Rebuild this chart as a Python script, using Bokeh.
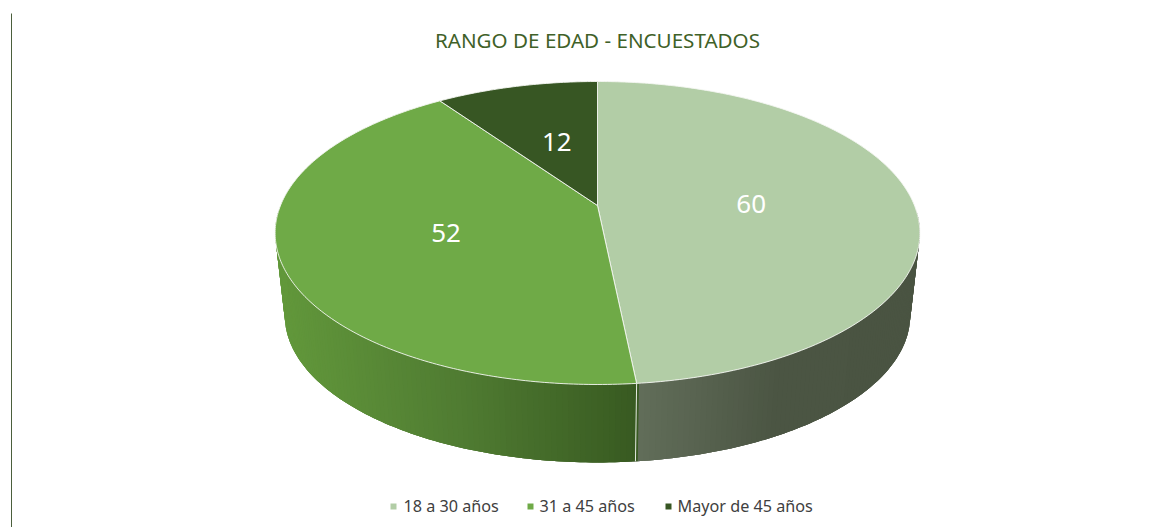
import math
from bokeh.plotting import figure
from bokeh.embed import file_html
from bokeh.resources import INLINE
from bokeh.core.properties import value

title = "RANGO DE EDAD - ENCUESTADOS"
categories = ["18 a 30 años", "31 a 45 años", "Mayor de 45 años"]
values = [60, 52, 12]
top_colors = ["#B2CDA6", "#6FAA47", "#375623"]

FONT = "Noto Sans"
W, H = 1169, 527
p = figure(width=W, height=H, x_range=(0, W), y_range=(H, 0),
           output_backend="svg", toolbar_location=None, min_border=0,
           outline_line_color=None, background_fill_color="white",
           border_fill_color="white")
p.axis.visible = False
p.grid.visible = False

# Projection of the tilted disc
CX, CY = 597.0, 205.0
C, A, E = 317.0, 146.5, 0.1815
DEPTH_Y, SHRINK = 83.3, 0.97


def top(t):
    u, v = math.sin(t), math.cos(t)
    d = 1 + E * v
    return CX + C * u / d, CY - A * v / d


def bottom(t):
    x, y = top(t)
    return CX + SHRINK * (x - CX), CY + DEPTH_Y + SHRINK * (y - CY)


total = sum(values)
edges = [0.0]
for val in values:
    edges.append(edges[-1] + val / total * 2 * math.pi)


def lerp_color(stops, f):
    for (f0, c0), (f1, c1) in zip(stops, stops[1:]):
        if f <= f1:
            k = 0 if f1 == f0 else max(0.0, (f - f0) / (f1 - f0))
            return "#%02x%02x%02x" % tuple(round(a + (b - a) * k) for a, b in zip(c0, c1))
    return "#%02x%02x%02x" % stops[-1][1]


# Side-wall shading, by horizontal position across the disc
side_green = [(0.0, (0x62, 0x98, 0x3B)), (0.28, (0x50, 0x7C, 0x32)), (0.56, (0x38, 0x5A, 0x21))]
side_grey = [(0.56, (0x62, 0x6E, 0x5A)), (0.78, (0x4B, 0x55, 0x43)), (1.0, (0x4A, 0x54, 0x42))]

# Strips are painted one over the next with an overlap, which avoids seams
T0, T1 = math.radians(92), math.radians(268)
N = 200
STEP = (T1 - T0) / N
for i in range(N):
    a = T0 + STEP * i
    ts = [a + STEP * j for j in range(4) if a + STEP * j <= T1 + 1e-9]
    if len(ts) < 2:
        ts = [a, T1]
    mid = a + STEP / 2
    f = (top(mid)[0] - 275) / 645
    col = lerp_color(side_grey if mid < edges[1] else side_green, f)
    px = [top(t)[0] for t in ts] + [bottom(t)[0] for t in reversed(ts)]
    py = [top(t)[1] for t in ts] + [bottom(t)[1] for t in reversed(ts)]
    p.patch(px, py, fill_color=col, line_color=None)

# Front divider on the wall
e = edges[1]
p.line([top(e)[0], bottom(e)[0]], [top(e)[1], bottom(e)[1]], line_color="#E6EBE2", line_width=1)

# Top face slices
for k, col in enumerate(top_colors):
    n = max(4, int((edges[k + 1] - edges[k]) * 80))
    ts = [edges[k] + (edges[k + 1] - edges[k]) * j / n for j in range(n + 1)]
    px = [CX] + [top(t)[0] for t in ts]
    py = [CY] + [top(t)[1] for t in ts]
    p.patch(px, py, fill_color=col, line_color="#F4F6F2", line_width=1, line_alpha=0.9)

# Value labels, half way along each slice's mid ray, with a small nudge
nudges = [(0, 2), (4, 0), (-1, -3)]
for k, val in enumerate(values):
    m = (edges[k] + edges[k + 1]) / 2
    tx, ty = top(m)
    p.text([CX + 0.49 * (tx - CX) + nudges[k][0]], [CY + 0.51 * (ty - CY) + nudges[k][1]],
           text=[str(val)], text_color="white", text_font=value(FONT), text_font_size="26px",
           text_align="center", text_baseline="middle")

# Title
p.text([597], [39.5], text=[title], text_color="#3F6128", text_font=value(FONT),
       text_font_size="20.6px", text_align="center", text_baseline="middle")

# Legend
sq_x = [393, 530, 668]
tx_x = [403, 539, 677]
for sx, tx, name, col in zip(sq_x, tx_x, categories, top_colors):
    p.rect([sx], [506], width=6, height=6, fill_color=col, line_color=None)
    p.text([tx], [505.5], text=[name], text_color="#404040", text_font=value(FONT),
           text_font_size="16.2px", text_align="left", text_baseline="middle")

# Left rule
p.line([11, 11], [13, H], line_color="#4B5F3C", line_width=1)

open("out.html", "w").write(file_html(p, INLINE))
